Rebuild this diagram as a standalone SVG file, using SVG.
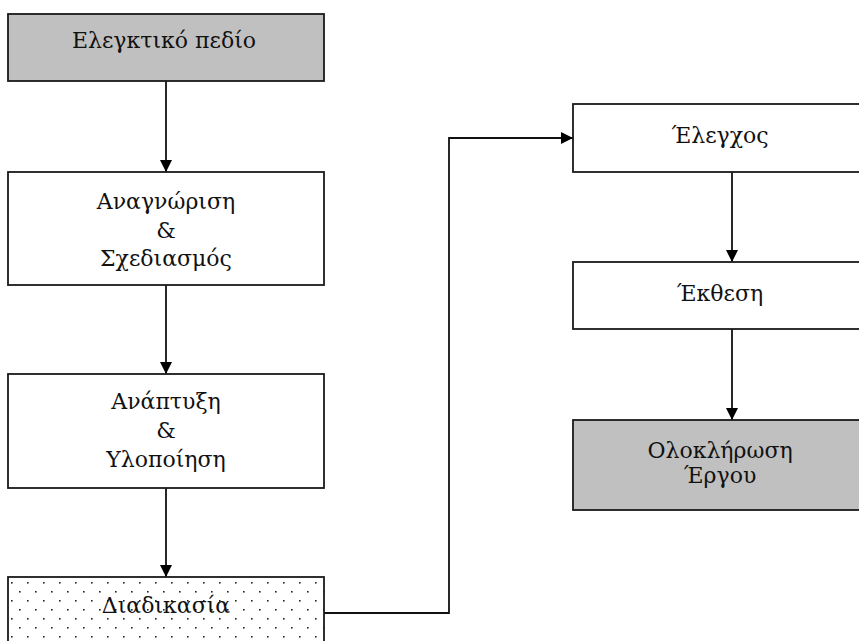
<svg xmlns="http://www.w3.org/2000/svg" width="859" height="641" viewBox="0 0 859 641">
<style>
.box{stroke:#1a1a1a;stroke-width:1.8;fill:#ffffff}
.gray{fill:#c0c0c0}
.dots{fill:url(#dotpat)}
.t{font-family:"DejaVu Serif","Liberation Serif",serif;font-size:22px;fill:#111;text-anchor:middle}
.c{stroke:#111;stroke-width:1.8;fill:none}
</style>
<defs>
<pattern id="dotpat" x="11" y="582" width="16" height="18" patternUnits="userSpaceOnUse">
<rect width="16" height="18" fill="#ffffff"/>
<rect x="0" y="0" width="1.6" height="1.6" fill="#222"/>
<rect x="8" y="9" width="1.6" height="1.6" fill="#222"/>
</pattern>
<marker id="ah" viewBox="0 0 12 12" refX="12" refY="6" markerWidth="12" markerHeight="12" markerUnits="userSpaceOnUse" orient="auto">
<path d="M0,0 L12,6 L0,12 Z" fill="#000"/>
</marker>
</defs>
<g id="connectors">
<line class="c" x1="166" y1="81" x2="166" y2="172" marker-end="url(#ah)"/>
<line class="c" x1="166" y1="285" x2="166" y2="374" marker-end="url(#ah)"/>
<line class="c" x1="166" y1="488" x2="166" y2="577" marker-end="url(#ah)"/>
<polyline class="c" points="324,613 449,613 449,138 573,138" marker-end="url(#ah)"/>
<line class="c" x1="732" y1="172" x2="732" y2="262" marker-end="url(#ah)"/>
<line class="c" x1="732" y1="329" x2="732" y2="420" marker-end="url(#ah)"/>
</g>
<g id="node-elegktiko">
<rect class="box gray" x="8" y="14" width="316" height="67"/>
<text class="t" x="164" y="48">Ελεγκτικό πεδίο</text>
</g>
<g id="node-anagnorisi">
<rect class="box" x="8" y="172" width="316" height="113"/>
<text class="t" x="166" y="209">Αναγνώριση</text>
<text class="t" x="166" y="238">&amp;</text>
<text class="t" x="166" y="266">Σχεδιασμός</text>
</g>
<g id="node-anaptyxi">
<rect class="box" x="8" y="374" width="316" height="114"/>
<text class="t" x="166" y="409">Ανάπτυξη</text>
<text class="t" x="166" y="438">&amp;</text>
<text class="t" x="166" y="467">Υλοποίηση</text>
</g>
<g id="node-diadikasia">
<rect class="box dots" x="8" y="577" width="316" height="80"/>
<text class="t" x="166" y="613">Διαδικασία</text>
</g>
<g id="node-elegxos">
<rect class="box" x="573" y="104" width="316" height="68"/>
<text class="t" x="720" y="143">Έλεγχος</text>
</g>
<g id="node-ekthesi">
<rect class="box" x="573" y="262" width="316" height="67"/>
<text class="t" x="720" y="301">Έκθεση</text>
</g>
<g id="node-oloklirosi">
<rect class="box gray" x="573" y="420" width="316" height="90"/>
<text class="t" x="720" y="458">Ολοκλήρωση</text>
<text class="t" x="720" y="483">Έργου</text>
</g>
</svg>
